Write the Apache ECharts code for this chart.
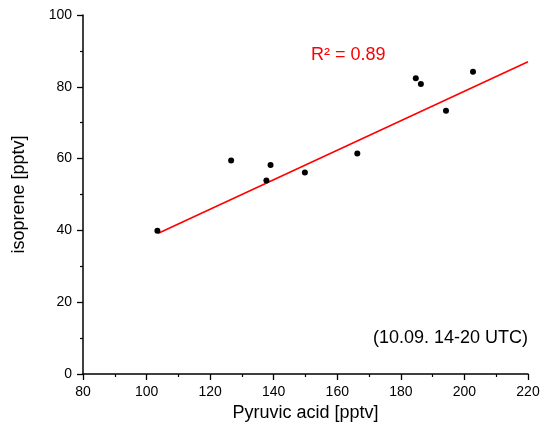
<!DOCTYPE html>
<html><head><meta charset="utf-8">
<script src="https://cdn.jsdelivr.net/npm/echarts@6/dist/echarts.min.js"></script>
<style>html,body{margin:0;padding:0;background:#fff}#c{width:544px;height:444px}</style>
</head><body><div id="c"></div>
<script>
const pyruvic = [103.4, 126.6, 137.7, 139, 149.8, 166.3, 184.7, 186.3, 194.2, 202.7];
const isoprene = [39.9, 59.5, 53.9, 58.2, 56.1, 61.4, 82.4, 80.8, 73.3, 84.2];
const fitX = [103.7, 220];
const fitY = [39.2, 87.0];
const xTicks = [80, 100, 120, 140, 160, 180, 200, 220];
const yTicks = [0, 20, 40, 60, 80, 100];
const r2Label = 'R² = 0.89';
const periodLabel = '(10.09. 14-20 UTC)';

const font = '"Liberation Sans", Arial, sans-serif';
const chart = echarts.init(document.getElementById('c'));
const axisCommon = {
  axisLine: {show: true, onZero: false, lineStyle: {color: '#000', width: 1.5}},
  axisTick: {show: true, inside: false, length: 6, lineStyle: {color: '#000', width: 1.3}},
  minorTick: {show: true, splitNumber: 2, length: 3, lineStyle: {color: '#000', width: 1.2}},
  splitLine: {show: false},
  axisLabel: {color: '#000', fontSize: 14, fontFamily: font, margin: 11},
  nameTextStyle: {color: '#000', fontSize: 18, fontFamily: font}
};
chart.setOption({
  animation: false,
  backgroundColor: '#fff',
  grid: {left: 83, right: 16, top: 15, bottom: 70},
  xAxis: Object.assign({}, axisCommon, {
    type: 'value', min: xTicks[0], max: xTicks[xTicks.length - 1], interval: 20,
    name: 'Pyruvic acid [pptv]', nameLocation: 'middle', nameGap: 29
  }),
  yAxis: Object.assign({}, axisCommon, {
    type: 'value', min: yTicks[0], max: yTicks[yTicks.length - 1], interval: 20,
    name: 'isoprene [pptv]', nameLocation: 'middle', nameGap: 55
  }),
  series: [
    {type: 'line', data: fitX.map((x, i) => [x, fitY[i]]), showSymbol: false,
     lineStyle: {color: '#ff0000', width: 1.6}, z: 2},
    {type: 'scatter', data: pyruvic.map((x, i) => [x, isoprene[i]]), symbolSize: 6,
     itemStyle: {color: '#000', opacity: 1}, z: 3}
  ],
  graphic: [
    {type: 'text', left: 311, top: 46, style: {text: r2Label, fill: '#ff0000', fontSize: 18, fontFamily: font}},
    {type: 'text', right: 16, top: 329, style: {text: periodLabel, fill: '#000', fontSize: 18, fontFamily: font}}
  ]
});
</script></body></html>
